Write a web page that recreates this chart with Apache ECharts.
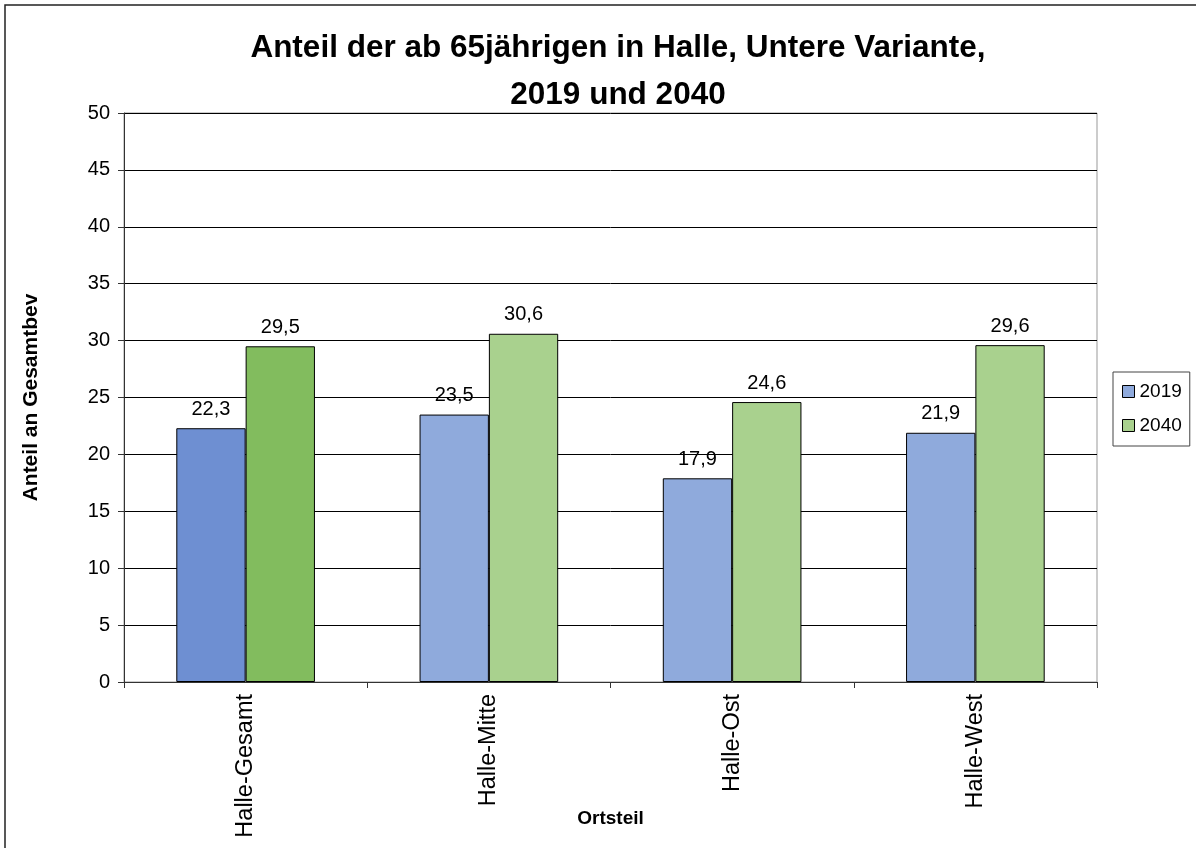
<!DOCTYPE html>
<html>
<head>
<meta charset="utf-8">
<script src="https://cdn.jsdelivr.net/npm/echarts@6/dist/echarts.min.js"></script>
<style>
  html, body { margin: 0; padding: 0; background: #fff; }
</style>
</head>
<body>
<div id="main" style="width: 1196px;height:848px;"></div>
<script>
    // Daten aus dem Diagramm
    var categories = ['Halle-Gesamt', 'Halle-Mitte', 'Halle-Ost', 'Halle-West'];
    var werte2019 = [22.3, 23.5, 17.9, 21.9];
    var werte2040 = [29.5, 30.6, 24.6, 29.6];
    var yTicks = [0, 5, 10, 15, 20, 25, 30, 35, 40, 45, 50];

    var font = '"Liberation Sans", Arial, sans-serif';

    // Halle-Gesamt hat dunklere Farben
    function mkData(values, dark, light) {
        return values.map(function (v, i) {
            return { value: v, itemStyle: { color: i === 0 ? dark : light } };
        });
    }

    function komma(p) {
        return String(p.value).replace('.', ',');
    }

    var myChart = echarts.init(document.getElementById('main'));
    var option = {
        backgroundColor: '#fff',
        animation: false,
        textStyle: { fontFamily: font, color: '#000' },
        title: {
            text: 'Anteil der ab 65jährigen in Halle, Untere Variante,\n2019 und 2040',
            left: 613,
            top: 20,
            textAlign: 'center',
            textStyle: {
                fontFamily: font,
                fontSize: 31.5,
                fontWeight: 'bold',
                lineHeight: 47,
                color: '#000'
            }
        },
        graphic: [{
            type: 'rect',
            shape: { x: 5, y: 5, width: 1200, height: 860 },
            style: { fill: 'none', stroke: '#222', lineWidth: 1.5 },
            silent: true
        }],
        legend: {
            orient: 'vertical',
            left: 1113,
            top: 372,
            padding: [10, 8, 11, 9],
            itemWidth: 12,
            itemHeight: 12,
            itemGap: 15,
            icon: 'rect',
            borderColor: '#444',
            borderWidth: 1,
            textStyle: { fontFamily: font, fontSize: 19, color: '#000' },
            data: [
                { name: '2019', itemStyle: { color: '#8FAADC', borderColor: '#000', borderWidth: 1 } },
                { name: '2040', itemStyle: { color: '#A9D18E', borderColor: '#000', borderWidth: 1 } }
            ]
        },
        grid: {
            left: 124,
            right: 99,
            top: 113,
            bottom: 166,
            outerBoundsMode: 'none',
            show: true,
            borderColor: '#999',
            borderWidth: 1
        },
        xAxis: {
            type: 'category',
            data: categories,
            name: 'Ortsteil',
            nameLocation: 'middle',
            nameGap: 127,
            nameMoveOverlap: false,
            nameTextStyle: { fontFamily: font, fontSize: 19, fontWeight: 'bold', color: '#000' },
            axisLine: { lineStyle: { color: '#333', width: 1 } },
            axisTick: { show: true, length: 6, lineStyle: { color: '#333' } },
            axisLabel: { rotate: 90, fontSize: 23.5, margin: 12, color: '#000', fontFamily: font }
        },
        yAxis: {
            type: 'value',
            min: yTicks[0],
            max: yTicks[yTicks.length - 1],
            interval: yTicks[1] - yTicks[0],
            name: 'Anteil an Gesamtbev',
            nameLocation: 'middle',
            nameGap: 82,
            nameMoveOverlap: false,
            nameTextStyle: { fontFamily: font, fontSize: 21, fontWeight: 'bold', color: '#000' },
            axisLine: { show: true, lineStyle: { color: '#333', width: 1 } },
            axisTick: { show: true, length: 6, lineStyle: { color: '#333' } },
            axisLabel: { fontSize: 20, margin: 14, color: '#000', fontFamily: font },
            splitLine: { show: true, lineStyle: { color: '#000', width: 1 } }
        },
        series: [{
            name: '2019',
            type: 'bar',
            barGap: '0%',
            barCategoryGap: '43%',
            itemStyle: { color: '#8FAADC', borderColor: '#000', borderWidth: 1 },
            label: { show: true, position: 'top', distance: 9, fontSize: 20, color: '#000', fontFamily: font, formatter: komma },
            data: mkData(werte2019, '#6E8FD2', '#8FAADC')
        }, {
            name: '2040',
            type: 'bar',
            itemStyle: { color: '#A9D18E', borderColor: '#000', borderWidth: 1 },
            label: { show: true, position: 'top', distance: 9, fontSize: 20, color: '#000', fontFamily: font, formatter: komma },
            data: mkData(werte2040, '#82BC5E', '#A9D18E')
        }]
    };
    myChart.setOption(option);
</script>
</body>
</html>
